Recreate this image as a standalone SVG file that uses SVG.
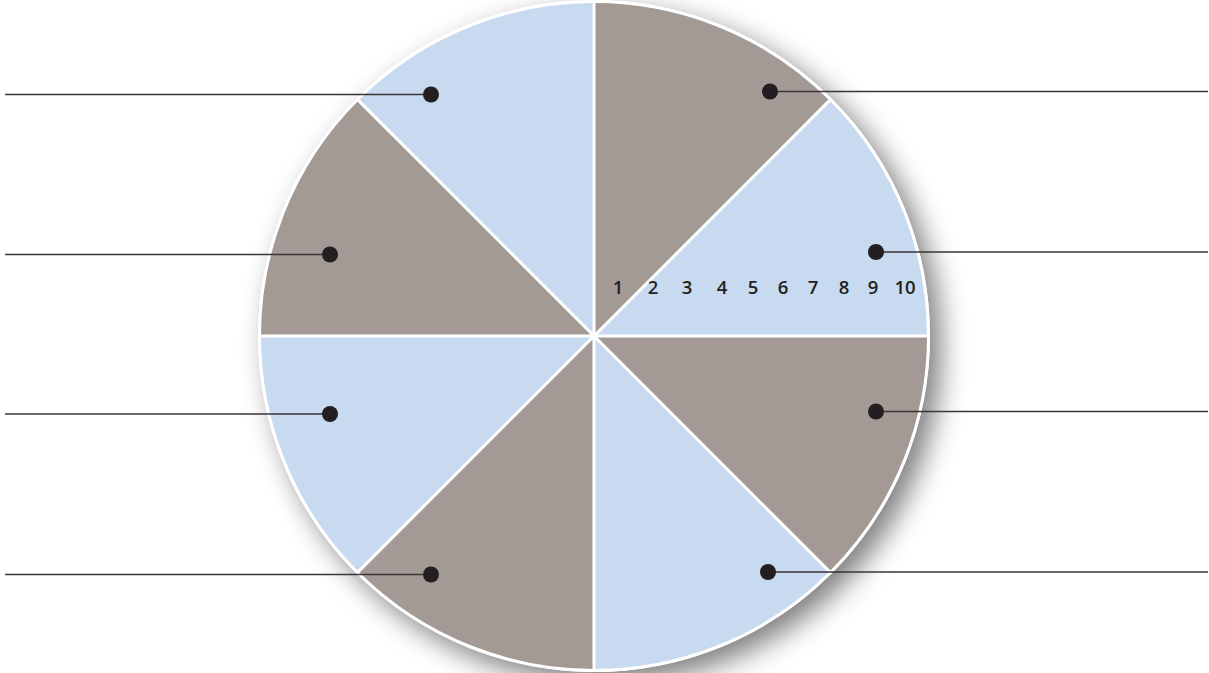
<svg xmlns="http://www.w3.org/2000/svg" width="1209" height="673" viewBox="0 0 1209 673">
<defs>
<filter id="sh" x="-20%" y="-20%" width="140%" height="140%">
<feGaussianBlur stdDeviation="14"/>
</filter>
<style>
.b{fill:#c8daef}
.g{fill:#a39a95}
.div{stroke:#ffffff;stroke-width:3;fill:none}
.ld{stroke:#3a3536;stroke-width:1.5;fill:none}
.dot{fill:#231f20}
.n{font-family:"Open Sans","Liberation Sans",sans-serif;font-size:18.5px;font-weight:600;fill:#231f20;text-anchor:middle}
</style>
</defs>
<rect width="1209" height="673" fill="#ffffff"/>
<g id="wheel">
<circle cx="605" cy="347" r="336" fill="#000" opacity="0.5" filter="url(#sh)"/>
<circle cx="594" cy="336" r="336" fill="#ffffff"/>
<path class="g" d="M594,336 L594,2 A334,334 0 0 1 830.2,99.8 Z"/>
<path class="b" d="M594,336 L830.2,99.8 A334,334 0 0 1 928,336 Z"/>
<path class="g" d="M594,336 L928,336 A334,334 0 0 1 830.2,572.2 Z"/>
<path class="b" d="M594,336 L830.2,572.2 A334,334 0 0 1 594,670 Z"/>
<path class="g" d="M594,336 L594,670 A334,334 0 0 1 357.8,572.2 Z"/>
<path class="b" d="M594,336 L357.8,572.2 A334,334 0 0 1 260,336 Z"/>
<path class="g" d="M594,336 L260,336 A334,334 0 0 1 357.8,99.8 Z"/>
<path class="b" d="M594,336 L357.8,99.8 A334,334 0 0 1 594,2 Z"/>
<path class="div" d="M594,0 V672 M258,336 H930 M356.4,98.4 L831.6,573.6 M831.6,98.4 L356.4,573.6"/>
<circle cx="594" cy="336" r="334.5" class="div"/>
</g>
<g id="scale">
<text class="n" x="618" y="294">1</text>
<text class="n" x="653" y="294">2</text>
<text class="n" x="687" y="294">3</text>
<text class="n" x="722" y="294">4</text>
<text class="n" x="753" y="294">5</text>
<text class="n" x="783" y="294">6</text>
<text class="n" x="813" y="294">7</text>
<text class="n" x="844" y="294">8</text>
<text class="n" x="873" y="294">9</text>
<text class="n" x="905" y="294">10</text>
</g>
<g id="connectors">
<path class="ld" d="M5,94.5 H431 M5,254.5 H330 M5,414 H330 M5,574.5 H431"/>
<path class="ld" d="M770,91.5 H1208 M876,252 H1208 M876,411.5 H1208 M768,572 H1208"/>
</g>
<g id="dot-tl"><circle class="dot" cx="431" cy="94.5" r="8"/></g>
<g id="dot-ul"><circle class="dot" cx="330" cy="254.5" r="8"/></g>
<g id="dot-ll"><circle class="dot" cx="330" cy="414" r="8"/></g>
<g id="dot-bl"><circle class="dot" cx="431" cy="574.5" r="8"/></g>
<g id="dot-tr"><circle class="dot" cx="770" cy="91.5" r="8"/></g>
<g id="dot-ur"><circle class="dot" cx="876" cy="252" r="8"/></g>
<g id="dot-lr"><circle class="dot" cx="876" cy="411.5" r="8"/></g>
<g id="dot-br"><circle class="dot" cx="768" cy="572" r="8"/></g>
</svg>
